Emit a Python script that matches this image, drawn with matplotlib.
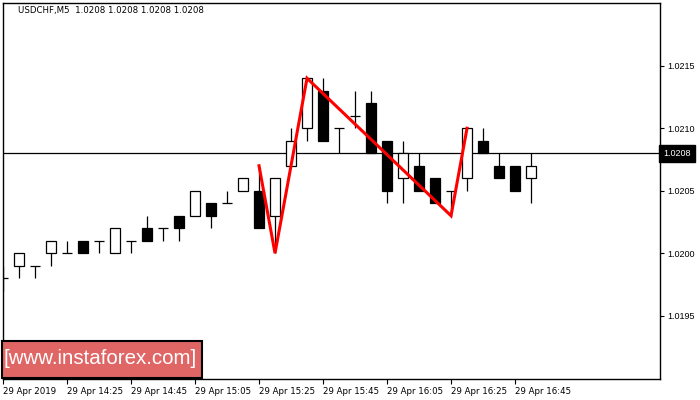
"""
USDCHF M5 candlestick chart with a red zigzag pattern (MT4 style)
"""

import matplotlib
matplotlib.use('Agg')
import matplotlib.pyplot as plt
from matplotlib.patches import Rectangle
import numpy as np

# ---- data ----
symbol_header = 'USDCHF,M5  1.0208 1.0208 1.0208 1.0208'

opens = [1.0198, 1.0199, 1.0199, 1.0200, 1.0200, 1.0201, 1.0201, 1.0200, 1.0201, 1.0202,
         1.0202, 1.0203, 1.0203, 1.0204, 1.0204, 1.0205, 1.0205, 1.0203, 1.0207, 1.0210,
         1.0213, 1.0210, 1.0211, 1.0212, 1.0209, 1.0206, 1.0207, 1.0206, 1.0205, 1.0206,
         1.0209, 1.0207, 1.0207, 1.0206]
highs = [1.0199, 1.0200, 1.0199, 1.0201, 1.0201, 1.0201, 1.0201, 1.0202, 1.0201, 1.0203,
         1.0202, 1.0203, 1.0205, 1.0204, 1.0205, 1.0206, 1.0207, 1.0206, 1.0210, 1.0214,
         1.0214, 1.0210, 1.0213, 1.0213, 1.0209, 1.0209, 1.0208, 1.0206, 1.0205, 1.0210,
         1.0210, 1.0208, 1.0207, 1.0208]
lows = [1.0197, 1.0198, 1.0198, 1.0199, 1.0200, 1.0200, 1.0200, 1.0200, 1.0200, 1.0201,
        1.0201, 1.0201, 1.0203, 1.0202, 1.0204, 1.0205, 1.0202, 1.0200, 1.0207, 1.0209,
        1.0209, 1.0208, 1.0210, 1.0208, 1.0204, 1.0204, 1.0205, 1.0204, 1.0203, 1.0205,
        1.0208, 1.0206, 1.0205, 1.0204]
closes = [1.0198, 1.0200, 1.0199, 1.0201, 1.0200, 1.0200, 1.0201, 1.0202, 1.0201, 1.0201,
          1.0202, 1.0202, 1.0205, 1.0203, 1.0204, 1.0206, 1.0202, 1.0206, 1.0209, 1.0214,
          1.0209, 1.0210, 1.0211, 1.0208, 1.0205, 1.0208, 1.0205, 1.0204, 1.0205, 1.0210,
          1.0208, 1.0206, 1.0205, 1.0207]

# zigzag pattern (bar index, price)
pattern_idx = [16, 17, 19, 28, 29]
pattern_price = [1.0207, 1.0200, 1.0214, 1.0203, 1.0210]

bid_price = 1.0208

price_ticks = [1.0195, 1.0200, 1.0205, 1.0210, 1.0215]
time_tick_idx = [0, 4, 8, 12, 16, 20, 24, 28, 32]
time_tick_labels = ['29 Apr 2019', '29 Apr 14:25', '29 Apr 14:45', '29 Apr 15:05',
                    '29 Apr 15:25', '29 Apr 15:45', '29 Apr 16:05', '29 Apr 16:25',
                    '29 Apr 16:45']

# ---- figure ----
W, H = 700, 400
fig = plt.figure(figsize=(7, 4), dpi=100)
ax = fig.add_axes([3 / W, 21 / H, 657 / W, 376 / H])

o = np.array(opens)
h = np.array(highs)
l = np.array(lows)
c = np.array(closes)
x = np.arange(len(o))
body_w = 0.65
lw = 0.9

# wicks
ax.vlines(x, l, h, color='black', linewidth=lw, zorder=2)

# bodies
up = c > o
down = c < o
flat = c == o
ax.bar(x[up], (c - o)[up], bottom=o[up], width=body_w, facecolor='white',
       edgecolor='black', linewidth=lw, zorder=3)
ax.bar(x[down], (o - c)[down], bottom=c[down], width=body_w, facecolor='black',
       edgecolor='black', linewidth=lw, zorder=3)
ax.hlines(o[flat], x[flat] - body_w / 2, x[flat] + body_w / 2, color='black',
          linewidth=lw, zorder=3)

# bid line
ax.axhline(bid_price, color='black', linewidth=lw, zorder=1)

# zigzag
ax.plot(pattern_idx, pattern_price, color='#ff0000', linewidth=2.2, zorder=4,
        solid_joinstyle='miter')

ax.set_xlim(0, 41.06)
ax.set_ylim(1.018994, 1.022002)

# axes styling
for sp in ax.spines.values():
    sp.set_linewidth(1.0)
ax.yaxis.tick_right()
ax.set_yticks(price_ticks)
ax.set_yticklabels([f'{p:.4f}' for p in price_ticks], family='Liberation Sans')
ax.tick_params(axis='y', direction='out', length=3, width=0.8, pad=2, labelsize=6.5)
ax.set_xticks(time_tick_idx)
ax.set_xticklabels(time_tick_labels, ha='left')
ax.tick_params(axis='x', direction='out', length=3.5, width=0.8, pad=2, labelsize=6.2)
for t in ax.get_xticklabels():
    t.set_horizontalalignment('left')

# current price label
ax.annotate(f'{bid_price:.4f}', xy=(1.0, bid_price), xycoords=('axes fraction', 'data'),
            xytext=(2.5, 0), textcoords='offset points', va='center', ha='left',
            fontsize=6.5, color='white', family='Liberation Sans',
            bbox=dict(boxstyle='square,pad=0.45', facecolor='black', edgecolor='black'))

# header
fig.text(18 / W, 1 - 11 / H, symbol_header, fontsize=6.2, va='center', ha='left')

# watermark
fig.add_artist(Rectangle((2 / W, 22 / H), 200 / W, 37 / H, transform=fig.transFigure,
                         facecolor='#e06666', edgecolor='black', linewidth=1.5, zorder=10))
fig.text(100 / W, 1 - 359 / H, '[www.instaforex.com]', fontsize=14.8, color='white',
         family='Liberation Sans', va='center', ha='center', zorder=11)

plt.savefig('out.png', dpi=100)
